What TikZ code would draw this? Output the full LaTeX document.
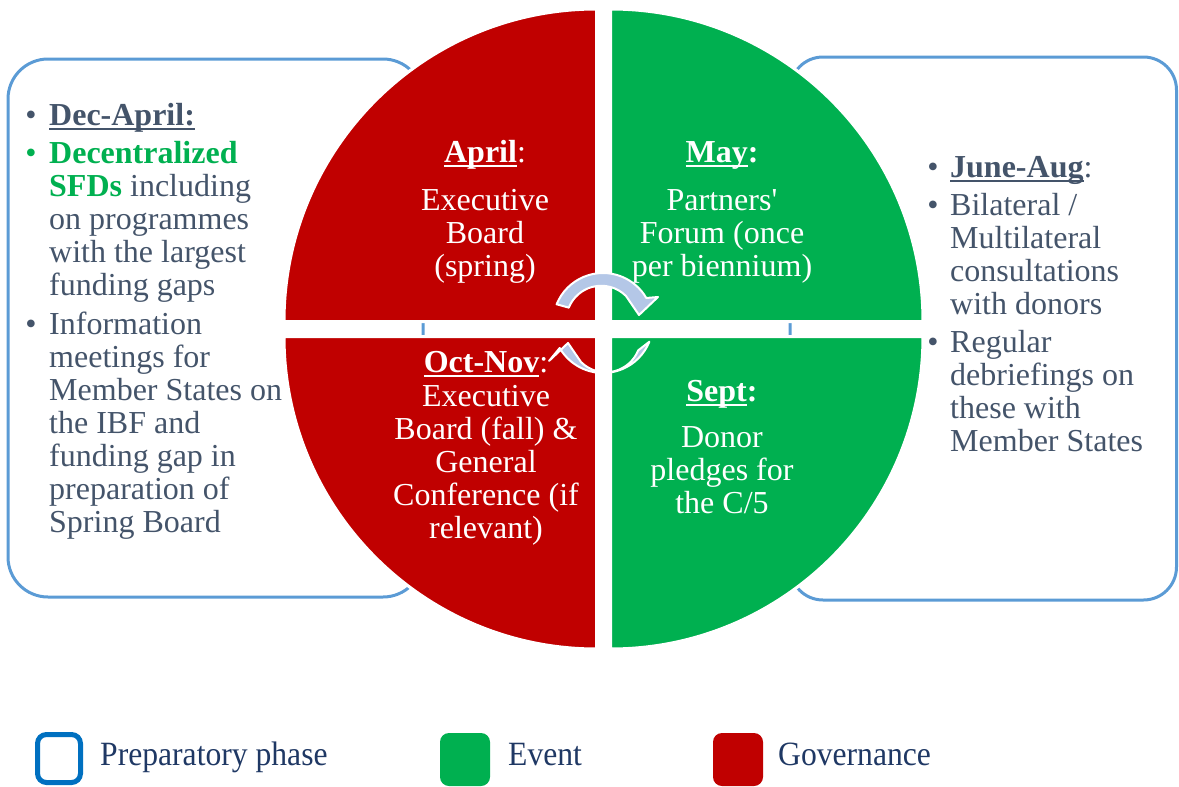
\documentclass[tikz,border=0pt]{standalone}
\usepackage{fontspec}
\setmainfont{Liberation Serif}
\definecolor{gov}{HTML}{C00000}
\definecolor{evt}{HTML}{00B050}
\definecolor{prepline}{HTML}{5B9BD5}
\definecolor{slate}{HTML}{44546A}
\definecolor{cycle}{HTML}{B4C7E7}
\definecolor{legblue}{HTML}{0070C0}
\definecolor{legtxt}{HTML}{1F3864}
% underline at a fixed depth below the baseline
\newcommand\ulin[1]{\setbox0\hbox{#1}\rlap{\rule[-4.5pt]{\wd0}{2pt}}\box0}
\begin{document}
\begin{tikzpicture}[x=1pt,y=1pt,
  prepbox/.style={draw=prepline,line width=3pt},
  quarter/.style={draw=white,line width=3pt},
  quadtext/.style={text=white,align=center,anchor=base,inner sep=0pt,
    font=\fontsize{32}{33}\selectfont},
  listtext/.style={text=slate,align=left,anchor=base west,inner sep=0pt,
    font=\fontsize{32}{33}\selectfont},
  dot/.style={text=slate,anchor=base,inner sep=0pt,font=\fontsize{32}{33}\selectfont},
  cyclearrow/.style={fill=cycle,draw=white,line width=2pt,line join=round},
  legtext/.style={text=legtxt,anchor=base west,inner sep=0pt,font=\fontsize{34}{36}\selectfont},
  legbox/.style={rounded corners=9pt}]
\useasboundingbox (0,0) rectangle (1179,-787);

% preparatory phase panels behind the cycle
\draw[prepbox,rounded corners=40pt] (8,-59) rectangle (423,-597);
\draw[prepbox,rounded corners=33pt] (790,-57) rectangle (1176.5,-600);

% the four quarters of the cycle, each with a thin white rim
\filldraw[quarter,fill=gov] (596.5,-321.5) -- (284,-321.5) arc[start angle=180,end angle=90,radius=312.5] -- cycle;
\filldraw[quarter,fill=evt] (610.5,-321.5) -- (923,-321.5) arc[start angle=0,end angle=90,radius=312.5] -- cycle;
\filldraw[quarter,fill=gov] (596.5,-336.5) -- (284,-336.5) arc[start angle=180,end angle=270,radius=312.5] -- cycle;
\filldraw[quarter,fill=evt] (610.5,-336.5) -- (923,-336.5) arc[start angle=0,end angle=-90,radius=312.5] -- cycle;

% circular arrows in the middle
\coordinate (hub) at (603,-323);
\draw[cyclearrow] ([shift={(158:50)}]hub) arc[start angle=158,end angle=30,radius=50]
  -- (658,-297) -- (639,-315) -- (626,-296) arc[start angle=45,end angle=158,radius=35] -- cycle;
\begin{scope}[rotate around={180:(603.5,-329)}]
\draw[cyclearrow] ([shift={(158:50)}]hub) arc[start angle=158,end angle=30,radius=50]
  -- (658,-297) -- (639,-315) -- (626,-296) arc[start angle=45,end angle=158,radius=35] -- cycle;
\end{scope}

% quarter labels (multi-line nodes sit on the baseline of their last line)
\node[quadtext] (aprT) at (485,-162) {\ulin{\textbf{April}}:};
\node[quadtext] (aprB) at (485,-276) {Executive\\Board\\(spring)};
\node[quadtext] (mayT) at (722,-162) {\ulin{\textbf{May}}\textbf{:}};
\node[quadtext] (mayB) at (722,-276) {Partners\textquotesingle\\Forum (once\\per biennium)};
\node[quadtext] (octT) at (486,-372) {\ulin{\textbf{Oct-Nov}}:};
\node[quadtext] (octB) at (486,-538) {Executive\\Board (fall) \&\\General\\Conference (if\\relevant)};
\node[quadtext] (sepT) at (722,-401) {\ulin{\textbf{Sept}}\textbf{:}};
\node[quadtext] (sepB) at (722,-513) {Donor\\pledges for\\the C/5};

% left panel list
\node[dot] (lb1) at (31,-125) {•};
\node[listtext] (lt1) at (49,-125) {\ulin{\textbf{Dec-April:}}};
\node[dot,text=evt] (lb2) at (31,-163) {•};
\node[listtext] (lt2) at (49,-295) {\textcolor{evt}{\textbf{Decentralized}}\\\textcolor{evt}{\textbf{SFDs}} including\\on programmes\\with the largest\\funding gaps};
\node[dot] (lb3) at (31,-334) {•};
\node[listtext] (lt3) at (49,-532) {Information\\meetings for\\Member States on\\the IBF and\\funding gap in\\preparation of\\Spring Board};

% right panel list
\node[dot] (rb1) at (933,-177) {•};
\node[listtext] (rt1) at (950,-177) {\ulin{\textbf{June-Aug}}:};
\node[dot] (rb2) at (933,-215) {•};
\node[listtext] (rt2) at (950,-314) {Bilateral /\\Multilateral\\consultations\\with donors};
\node[dot] (rb3) at (933,-352) {•};
\node[listtext] (rt3) at (950,-451) {Regular\\debriefings on\\these with\\Member States};

% legend
\draw[legbox,draw=legblue,line width=5pt] (37.5,-734.5) rectangle (80.5,-782.5);
\node[legtext] (lgP) at (100,-765) {\scalebox{0.93}[1]{Preparatory phase}};
\fill[legbox,evt] (440,-733) rectangle (490,-786);
\node[legtext] (lgE) at (508,-765) {\scalebox{0.93}[1]{Event}};
\fill[legbox,gov] (713,-733) rectangle (763,-786);
\node[legtext] (lgG) at (778,-765) {\scalebox{0.93}[1]{Governance}};
\end{tikzpicture}
\end{document}
